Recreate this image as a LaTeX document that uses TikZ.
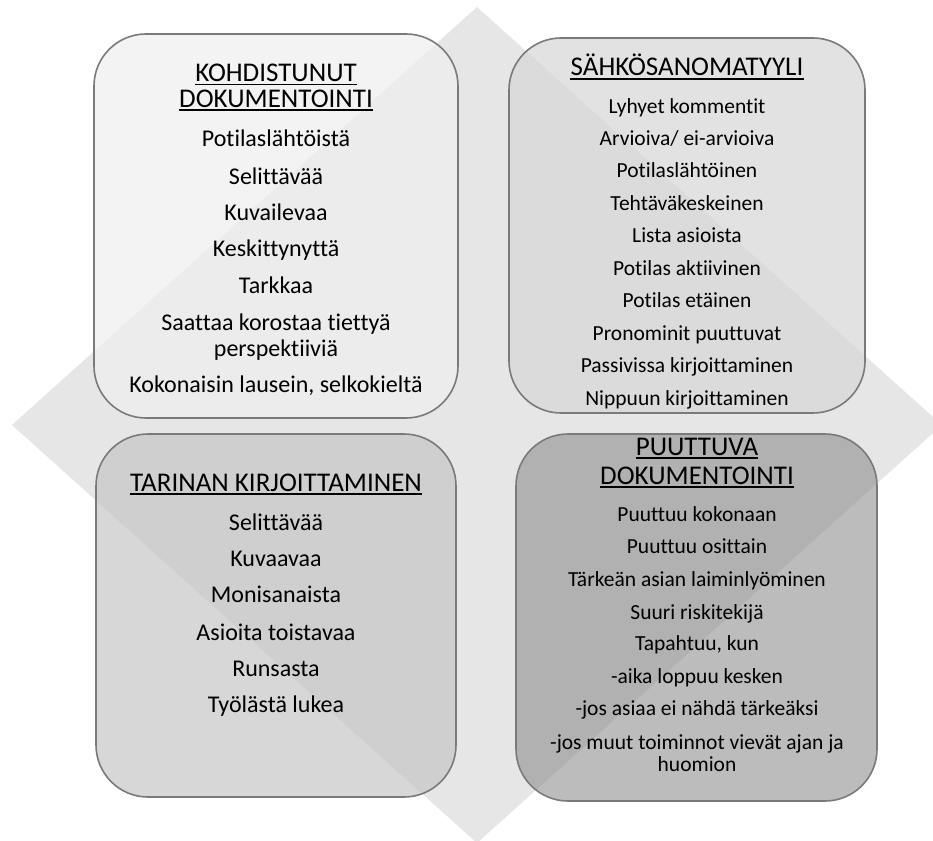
\documentclass[tikz,border=0pt]{standalone}
\usepackage{fontspec}
\setmainfont{Carlito}[Ligatures=CommonOff]
\definecolor{diamondgray}{HTML}{E6E6E6}
\definecolor{panelline}{HTML}{7A7A7A}
\definecolor{fillA}{HTML}{EFEFEF}
\definecolor{fillB}{HTML}{D7D7D7}
\definecolor{fillC}{HTML}{C7C7C7}
\definecolor{fillD}{HTML}{888888}
\begin{document}
\begin{tikzpicture}[x=1pt,y=-1pt,
  panel/.style={draw=panelline, line width=1.6pt, rounded corners=52pt},
  head/.style={inner sep=0pt, anchor=base, font=\fontsize{27}{29}\selectfont},
  itembig/.style={inner sep=0pt, anchor=base, font=\fontsize{24}{26}\selectfont},
  itemsmall/.style={inner sep=0pt, anchor=base, font=\fontsize{21.5}{23}\selectfont},
  uline/.style={line width=1.5pt, black}
]
\useasboundingbox (0,0) rectangle (933,840);
\clip (0,0) rectangle (933,840);

% background diamond
\fill[diamondgray] (477,7) -- (942,425) -- (477,843) -- (12,425) -- cycle;

% four translucent panels
\draw[panel, fill=fillA, fill opacity=0.76] (94,34) rectangle (458,418);
\draw[panel, fill=fillB, fill opacity=0.72] (509,38) rectangle (865,413);
\draw[panel, fill=fillC, fill opacity=0.72] (96,434) rectangle (456,797);
\draw[panel, fill=fillD, fill opacity=0.56] (516,434) rectangle (877,801);

% panel 1: focused documentation
\node[head] (h1a) at (276,81.7) {KOHDISTUNUT};
\node[head] (h1b) at (276,107.3) {DOKUMENTOINTI};
\foreach \n in {h1a,h1b}
  \draw[uline] ([yshift=-2.8pt]\n.base west) -- ([yshift=-2.8pt]\n.base east);
\foreach \y/\t [count=\i] in {146.7/Potilaslähtöistä, 184.3/Selittävää,
    220/Kuvailevaa, 256.7/Keskittynyttä, 293.3/Tarkkaa,
    330.7/Saattaa korostaa tiettyä, 356/perspektiiviä,
    392.3/{Kokonaisin lausein, selkokieltä}}
  \node[itembig] (a\i) at (276,\y) {\t};

% panel 2: telegram style
\node[head] (h2) at (687,76) {SÄHKÖSANOMATYYLI};
\draw[uline] ([yshift=-2.8pt]h2.base west) -- ([yshift=-2.8pt]h2.base east);
\foreach \y/\t [count=\i] in {113.3/Lyhyet kommentit, 145/{Arvioiva/ ei-arvioiva},
    177.7/Potilaslähtöinen, 210/Tehtäväkeskeinen, 242.7/Lista asioista,
    275/Potilas aktiivinen, 307.7/Potilas etäinen, 340.7/Pronominit puuttuvat,
    372.7/Passivissa kirjoittaminen, 405.7/Nippuun kirjoittaminen}
  \node[itemsmall] (b\i) at (687,\y) {\t};

% panel 3: story writing
\node[head] (h3) at (276,491) {TARINAN KIRJOITTAMINEN};
\draw[uline] ([yshift=-2.8pt]h3.base west) -- ([yshift=-2.8pt]h3.base east);
\foreach \y/\t [count=\i] in {530/Selittävää, 566.7/Kuvaavaa, 602.7/Monisanaista,
    640/Asioita toistavaa, 676/Runsasta, 712.7/Työlästä lukea}
  \node[itembig] (c\i) at (276,\y) {\t};

% panel 4: missing documentation
\node[head] (h4a) at (697,455) {PUUTTUVA};
\node[head] (h4b) at (697,484) {DOKUMENTOINTI};
\foreach \n in {h4a,h4b}
  \draw[uline] ([yshift=-2.8pt]\n.base west) -- ([yshift=-2.8pt]\n.base east);
\foreach \y/\t [count=\i] in {521/Puuttuu kokonaan, 553.3/Puuttuu osittain,
    586/Tärkeän asian laiminlyöminen, 619/Suuri riskitekijä,
    650.7/{Tapahtuu, kun}, 683.3/-aika loppuu kesken,
    715.7/-jos asiaa ei nähdä tärkeäksi,
    749/-jos muut toiminnot vievät ajan ja, 771.7/huomion}
  \node[itemsmall] (d\i) at (697,\y) {\t};
\end{tikzpicture}
\end{document}
